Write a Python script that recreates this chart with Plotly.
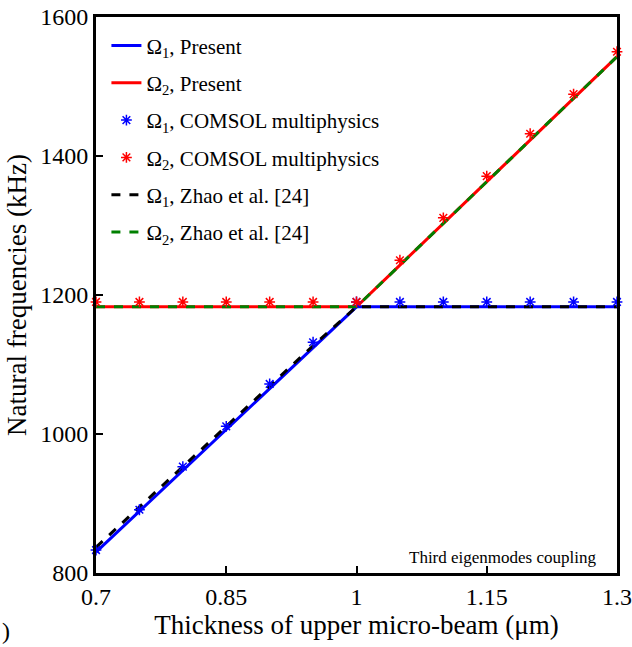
import plotly.graph_objects as go

thickness = [0.70, 0.75, 0.80, 0.85, 0.90, 0.95, 1.00, 1.05, 1.10, 1.15, 1.20, 1.25, 1.30]

omega1_present = [830, 889, 948, 1007, 1066, 1125, 1183, 1183, 1183, 1183, 1183, 1183, 1183]
omega2_present = [1183, 1183, 1183, 1183, 1183, 1183, 1183, 1243, 1303, 1363, 1423, 1483, 1543]

omega1_comsol = [833, 891, 953, 1011, 1072, 1132, 1190, 1190, 1190, 1190, 1190, 1190, 1190]
omega2_comsol = [1190, 1190, 1190, 1190, 1190, 1190, 1190, 1250, 1311, 1371, 1432, 1489, 1550]

omega1_zhao = [837, 895, 953, 1011, 1069, 1127, 1183, 1183, 1183, 1183, 1183, 1183, 1183]
omega2_zhao = [1183, 1183, 1183, 1183, 1183, 1183, 1183, 1243, 1303, 1363, 1423, 1483, 1543]

x_ticks = [0.7, 0.85, 1.0, 1.15, 1.3]
x_ticklabels = ["0.7", "0.85", "1", "1.15", "1.3"]
y_ticks = [800, 1000, 1200, 1400, 1600]

FONT = "Liberation Serif, Times New Roman, serif"

fig = go.Figure()

fig.add_trace(go.Scatter(x=thickness, y=omega2_present, mode="lines",
                         line=dict(color="#ff0000", width=3),
                         name="Ω<sub>2</sub>, Present", legendrank=2, legendgroup="b"))
fig.add_trace(go.Scatter(x=thickness, y=omega1_present, mode="lines",
                         line=dict(color="#0000ff", width=3),
                         name="Ω<sub>1</sub>, Present", legendrank=1, legendgroup="a"))
fig.add_trace(go.Scatter(x=thickness, y=omega2_zhao, mode="lines",
                         line=dict(color="#008000", width=3, dash="dash"),
                         name="Ω<sub>2</sub>, Zhao et al. [24]", legendrank=6, legendgroup="f"))
fig.add_trace(go.Scatter(x=thickness, y=omega1_zhao, mode="lines",
                         line=dict(color="#000000", width=3, dash="dash"),
                         name="Ω<sub>1</sub>, Zhao et al. [24]", legendrank=5, legendgroup="e"))
fig.add_trace(go.Scatter(x=thickness, y=omega1_comsol, mode="markers",
                         marker=dict(symbol="asterisk-open", size=9, color="#0000ff",
                                     line=dict(color="#0000ff", width=1.5)),
                         name="Ω<sub>1</sub>, COMSOL multiphysics", legendrank=3, legendgroup="c",
                         cliponaxis=False))
fig.add_trace(go.Scatter(x=thickness, y=omega2_comsol, mode="markers",
                         marker=dict(symbol="asterisk-open", size=9, color="#ff0000",
                                     line=dict(color="#ff0000", width=1.5)),
                         name="Ω<sub>2</sub>, COMSOL multiphysics", legendrank=4, legendgroup="d",
                         cliponaxis=False))

axis_common = dict(showline=True, linecolor="black", linewidth=3, mirror=True,
                   ticks="inside", ticklen=7, tickwidth=2, tickcolor="black",
                   showgrid=False, zeroline=False, automargin=False,
                   ticklabeloverflow="allow",
                   tickfont=dict(family=FONT, size=24, color="black"))

fig.update_layout(
    width=632, height=647,
    margin=dict(l=96, r=15, t=17, b=74),
    plot_bgcolor="white", paper_bgcolor="white",
    font=dict(family=FONT, color="black"),
    xaxis=dict(range=[0.7, 1.3], tickvals=x_ticks, ticktext=x_ticklabels,
               title=dict(text="Thickness of upper micro-beam (μm)",
                          font=dict(family=FONT, size=27), standoff=2),
               **axis_common),
    yaxis=dict(range=[800, 1600], tickvals=y_ticks,
               title=dict(text="Natural frequencies (kHz)",
                          font=dict(family=FONT, size=27), standoff=6),
               **axis_common),
    legend=dict(x=0.02, y=0.985, xanchor="left", yanchor="top",
                bgcolor="rgba(0,0,0,0)", borderwidth=0,
                font=dict(family=FONT, size=21, color="black"),
                tracegroupgap=7, itemwidth=30),
    annotations=[
        dict(text="Third eigenmodes coupling", x=0.9635, y=0.027,
             xref="paper", yref="paper", xanchor="right", yanchor="middle",
             showarrow=False, font=dict(family=FONT, size=17, color="black")),
        dict(text=")", x=-0.184, y=-0.105, xref="paper", yref="paper",
             xanchor="left", yanchor="middle",
             showarrow=False, font=dict(family=FONT, size=24, color="black")),
    ],
)

fig.write_html(
    "out.html",
    config={"displayModeBar": False},
    post_script="document.body.style.margin='0';document.body.style.overflow='hidden';",
)
